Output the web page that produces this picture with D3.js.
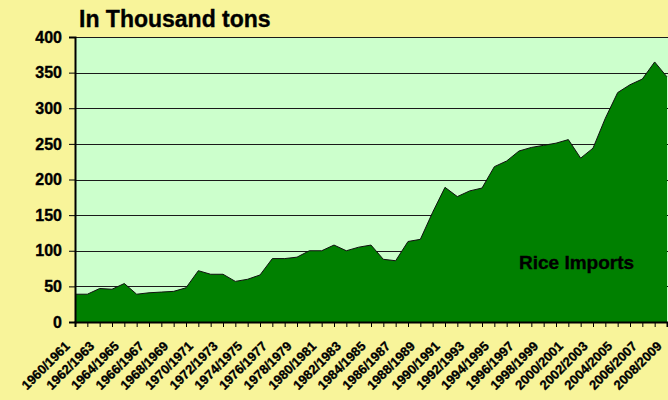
<!DOCTYPE html>
<html>
<head>
<meta charset="utf-8">
<script src="https://cdn.jsdelivr.net/npm/d3@7"></script>
<style>
  html, body { margin: 0; padding: 0; background: #F8F49A; }
  svg { display: block; }
  text { font-family: "Liberation Sans", Arial, sans-serif; font-weight: bold; fill: #000; }
</style>
</head>
<body>
<svg id="chart" width="668" height="400"></svg>
<script>
const years = d3.range(1960, 2009);
const categories = years.map(y => y + "/" + (y + 1));
const riceImports = [
  39, 39, 47, 46, 54, 39, 41, 42, 43, 48,
  72, 67, 67, 57, 60, 66, 89, 89, 91, 100,
  100, 108, 100, 105, 108, 88, 86, 113, 116, 154,
  189, 176, 184, 188, 218, 226, 240, 245, 248, 251,
  256, 230, 244, 286, 322, 333, 341, 365, 344
];
const yTicks = [0, 50, 100, 150, 200, 250, 300, 350, 400];
const title = "In Thousand tons";
const seriesLabel = "Rice Imports";

const W = 668, H = 400;
const m = { left: 75, right: 1, top: 37, bottom: 78 };
const svg = d3.select("#chart");

const x = d3.scalePoint().domain(categories).range([m.left, W - m.right]);
const y = d3.scaleLinear().domain([0, 400]).range([H - m.bottom, m.top]);

// plot area
svg.append("rect")
  .attr("x", m.left).attr("y", m.top)
  .attr("width", W - m.right - m.left + 2).attr("height", H - m.bottom - m.top)
  .attr("fill", "#CCFFCC");

// gridlines
svg.append("g").selectAll("line").data(yTicks.filter(d => d > 0)).join("line")
  .attr("x1", m.left).attr("x2", W)
  .attr("y1", d => Math.round(y(d)) + 0.5).attr("y2", d => Math.round(y(d)) + 0.5)
  .attr("stroke", "#1a1a1a").attr("stroke-width", 1);

// area
const area = d3.area()
  .x((d, i) => x(categories[i]))
  .y0(y(0))
  .y1(d => y(d));
svg.append("path").datum(riceImports)
  .attr("d", area)
  .attr("fill", "#008000");
const line = d3.line().x((d, i) => x(categories[i])).y(d => y(d));
svg.append("path").datum(riceImports)
  .attr("d", line)
  .attr("fill", "none").attr("stroke", "#111").attr("stroke-width", 1);

const boldText = sel => sel
  .style("font-family", "'Liberation Sans', Arial, sans-serif")
  .style("font-weight", "bold").attr("fill", "#000")
  .attr("stroke", "#000").attr("stroke-width", 0.35);

// y axis
const yAxis = d3.axisLeft(y).tickValues(yTicks).tickSize(6).tickPadding(7);
const gy = svg.append("g").attr("transform", `translate(${m.left},0)`).call(yAxis);
gy.select(".domain").attr("stroke", "#000").attr("stroke-width", 2);
gy.selectAll(".tick line").attr("stroke", "#000");
gy.selectAll(".tick text").style("font-size", "16px").call(boldText);

// x axis
const xAxis = d3.axisBottom(x).tickSize(5).tickFormat((d, i) => i % 2 === 0 ? d : "");
const gx = svg.append("g").attr("transform", `translate(0,${H - m.bottom})`).call(xAxis);
gx.select(".domain").attr("stroke", "#000").attr("stroke-width", 2);
gx.selectAll(".tick line").attr("stroke", "#000");
gx.selectAll(".tick text")
  .style("font-size", "13px").call(boldText)
  .attr("text-anchor", "end")
  .attr("dy", null)
  .attr("y", 0)
  .attr("transform", "translate(-5,25) rotate(-45)");

// title
svg.append("text").attr("x", 79).attr("y", 27)
  .style("font-size", "23px").call(boldText).text(title);

// series label
svg.append("text").attr("x", 519).attr("y", 269)
  .style("font-size", "19px").call(boldText).text(seriesLabel);
</script>
</body>
</html>
